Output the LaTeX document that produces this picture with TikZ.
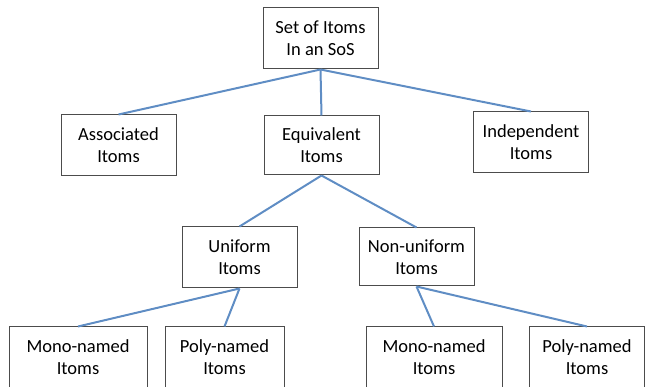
\documentclass[tikz,border=0pt]{standalone}
\usepackage{fontspec}
\setmainfont{Carlito}
\usetikzlibrary{positioning}
\definecolor{linkblue}{RGB}{95,141,196}

\begin{document}
\begin{tikzpicture}[
            x=1pt, y=-1pt,
            % styles
            item/.style={rectangle, draw=black!70, line width=1pt, fill=white, minimum width=115pt, minimum height=61pt, inner sep=0pt, text centered, align=center, font=\fontsize{18.5}{22}\selectfont},
            link/.style={draw=linkblue, line width=2pt}
        ]
        \clip (0,0) rectangle (646,387);

        % level 0
        \node (sos)    [item] at (320.5,38.5) {Set of Itoms\\In an SoS};

        % level 1
        \node (assoc)  [item] at (118.5,145.5) {Associated\\Itoms};
        \node (equiv)  [item, minimum height=59pt] at (321.5,145.5) {Equivalent\\Itoms};
        \node (indep)  [item] at (531,142.5) {Independent\\Itoms};

        % level 2
        \node (unif)   [item] at (239.5,257.5) {Uniform\\Itoms};
        \node (nonunif)[item, minimum height=58pt] at (416.5,257) {Non-uniform\\Itoms};

        % level 3
        \node (monoA)  [item, minimum width=138pt] at (78,357.5) {Mono-named\\Itoms};
        \node (polyA)  [item, minimum width=119pt] at (224.5,357.5) {Poly-named\\Itoms};
        \node (monoB)  [item, minimum width=136pt] at (434,357.5) {Mono-named\\Itoms};
        \node (polyB)  [item, minimum width=115pt] at (587,357.5) {Poly-named\\Itoms};

        % connections
        \draw [link] (sos.south) -- (assoc.north);
        \draw [link] (sos.south) -- (equiv.north);
        \draw [link] (sos.south) -- (indep.north);

        \draw [link] (equiv.south) -- (unif.north);
        \draw [link] (equiv.south) -- (nonunif.north);

        \draw [link] (unif.south) -- (monoA.north);
        \draw [link] (unif.south) -- (polyA.north);
        \draw [link] (nonunif.south) -- (monoB.north);
        \draw [link] (nonunif.south) -- (polyB.north);

        \end{tikzpicture}
\end{document}
